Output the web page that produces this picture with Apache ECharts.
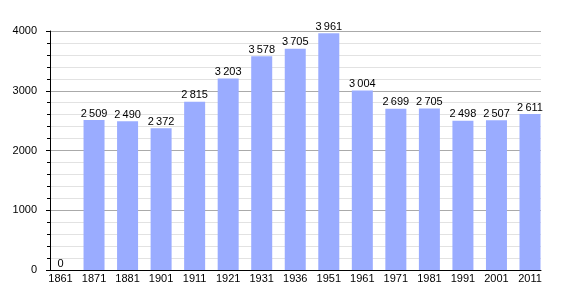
<!DOCTYPE html>
<html><head><meta charset="utf-8">
<script src="https://cdn.jsdelivr.net/npm/echarts@6/dist/echarts.min.js"></script>
<style>html,body{margin:0;padding:0;background:#fff}#c{width:570px;height:300px}</style>
</head><body><div id="c"></div>
<script>
var years = ['1861','1871','1881','1901','1911','1921','1931','1936','1951','1961','1971','1981','1991','2001','2011'];
var population = [0,2509,2490,2372,2815,3203,3578,3705,3961,3004,2699,2705,2498,2507,2611];
var yTicks = [0,1000,2000,3000,4000];

function fmt(v){ var s=String(v); return s.length>3 ? s.slice(0,s.length-3)+'\u2009'+s.slice(-3) : s; }
var yMin = yTicks[0], yMax = yTicks[yTicks.length-1];
var FONT = '"Liberation Sans", Arial, sans-serif';

var chart = echarts.init(document.getElementById('c'), null, {renderer:'canvas'});
chart.setOption({
  animation:false,
  textStyle:{fontFamily:FONT},
  grid:[
    {left:50,right:29,top:31,bottom:30,containLabel:false},
    {left:60.5,right:40,top:31,bottom:30,containLabel:false}
  ],
  xAxis:[
    {type:'category',gridIndex:0,data:years,show:true,
      axisLine:{lineStyle:{color:'#000',width:1}},
      axisTick:{show:false},axisLabel:{show:false},splitLine:{show:false}},
    {type:'category',gridIndex:1,data:years,boundaryGap:false,
      axisLine:{show:false},
      axisTick:{show:false},
      axisLabel:{color:'#000',fontSize:11,fontFamily:FONT,margin:3,interval:0},
      splitLine:{show:false}}
  ],
  yAxis:[
    {type:'value',gridIndex:0,min:yMin,max:yMax,interval:1000,
      axisLine:{show:true,lineStyle:{color:'#000',width:1}},
      axisTick:{show:true,length:4,lineStyle:{color:'#000'}},
      minorTick:{show:true,splitNumber:5,length:3,lineStyle:{color:'#000'}},
      axisLabel:{color:'#000',fontSize:11,fontFamily:FONT,margin:13,formatter:function(v){return String(v);}},
      splitLine:{lineStyle:{color:'#aaaaaa',width:1}},
      minorSplitLine:{show:true,lineStyle:{color:'#e2e2e2',width:1}}},
    {type:'value',gridIndex:1,min:yMin,max:yMax,interval:1000,show:false,
      splitLine:{show:false}}
  ],
  series:[{type:'bar',xAxisIndex:1,yAxisIndex:1,data:population,barWidth:21,clip:false,
    itemStyle:{color:'#9aacff'},
    label:{show:true,position:'top',distance:1,color:'#000',fontSize:11,fontFamily:FONT,
      formatter:function(p){return fmt(p.value);}}}]
});
</script></body></html>
